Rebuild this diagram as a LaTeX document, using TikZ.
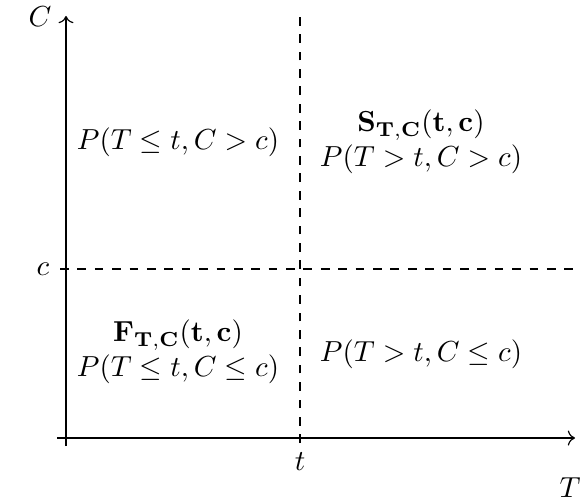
\documentclass[tikz,border=0pt]{standalone}
\usepackage{amsmath,amssymb}
\usetikzlibrary{positioning,arrows.meta,calc}

\begin{document}
\begin{tikzpicture}[x=0.345pt,y=-0.345pt]
\useasboundingbox (0,0) rectangle (582,504);
% axes
\coordinate (xs) at (57,438);
\coordinate (xe) at (575,438);
\coordinate (ys) at (66,446);
\coordinate (ye) at (66,16);
\draw[->] (xs) -- (xe);
\draw[->] (ys) -- (ye);
\node (Tlab) at (570,488) {$T$};
\node (Clab) at (40,17) {$C$};
% thresholds
\coordinate (ttop) at (300,16);
\coordinate (tbot) at (300,443);
\coordinate (cl) at (60,269);
\coordinate (cr) at (575,269);
\draw[dashed] (tbot) -- (ttop);
\draw[dashed] (cl) -- (cr);
\node (tlab) at (300,462) {$t$};
\node (clab) at (43,269) {$c$};
% quadrants
\node (ul) at (178,142) {$P(T\leq t,C>c)$};
\node[align=center] (ur) at (421,142) {$\mathbf{S_{T,C}(t,c)}$\\$P(T>t,C>c)$};
\node[align=center] (ll) at (178,352) {$\mathbf{F_{T,C}(t,c)}$\\$P(T\leq t,C\leq c)$};
\node (lr) at (421,354) {$P(T>t,C\leq c)$};
\end{tikzpicture}
\end{document}
